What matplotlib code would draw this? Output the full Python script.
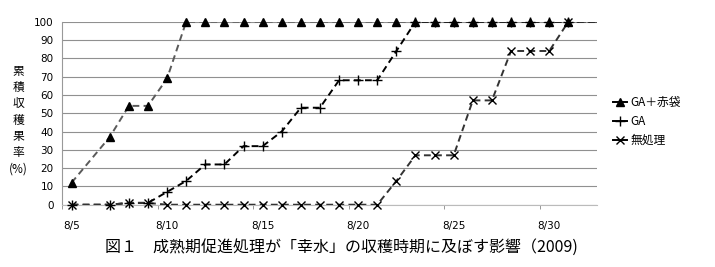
import numpy as np
import matplotlib
matplotlib.use('Agg')
import matplotlib.pyplot as plt

plt.rcParams['font.family'] = ['Noto Sans CJK JP', 'DejaVu Sans']

# 8/5 .. 9/2 (8/6 has no data)
DATES = [f'8/{d}' for d in range(5, 32)] + ['9/1', '9/2']
N = None
GA_AKABUKURO = [12, N, 37, 54, 54, 69] + [100] * 23
GA = [0, N, 0, 1, 1, 7, 13, 22, 22, 32, 32, 40, 53, 53, 68, 68, 68, 84] + [100] * 11
MUSHORI = [0, N, 0, 1, 1] + [0] * 12 + [13, 27, 27, 27, 57, 57, 84, 84, 84, 100, 100, 100]
LAST_MARKER = '8/31'
SERIES = [('GA＋赤袋', GA_AKABUKURO, '#5a5a5a', '^', 6),
          ('GA', GA, 'black', '+', 7.5),
          ('無処理', MUSHORI, '#333333', 'x', 5.5)]

fig = plt.figure(figsize=(7.15, 2.67), dpi=100)
ax = fig.add_axes([0.0867, 0.2333, 0.7483, 0.6854])

idx = np.arange(len(DATES))
last = DATES.index(LAST_MARKER)
for name, vals, lc, mk, ms in SERIES:
    x = np.array([i for i, v in zip(idx, vals) if v is not None])
    y = np.array([v for v in vals if v is not None], dtype=float)
    ax.plot(x, y, linestyle=(0, (3.5, 2.2)), color=lc, lw=1.4, clip_on=True, zorder=3)
    m = x <= last
    ax.plot(x[m], y[m], linestyle='none', marker=mk, color='black', ms=ms,
            mew=1.0, clip_on=False, zorder=4)
    ax.plot([], [], linestyle='-', color='black', lw=1.4, marker=mk, ms=ms,
            mew=1.0, label=name)

ax.set_xlim(-0.5, 27.5)
ax.set_ylim(0, 100)
ax.set_yticks(range(0, 101, 10))
ax.yaxis.grid(True, color='#909090', lw=0.8)
ax.set_axisbelow(True)
ax.set_xticks(idx[0:28:5])
ax.set_xticklabels([DATES[i] for i in idx[0:28:5]])
ax.set_xticks(np.arange(-0.5, 28, 5), minor=True)
ax.tick_params(axis='x', which='major', length=0, pad=12)
ax.tick_params(axis='x', which='minor', length=3, color='#888888', direction='out')
ax.tick_params(axis='y', length=0, pad=6)
for lab in ax.get_xticklabels() + ax.get_yticklabels():
    lab.set_family('DejaVu Sans')
    lab.set_fontsize(7.5)
for s in ['top', 'right']:
    ax.spines[s].set_visible(False)
ax.spines['left'].set_color('#999999')
ax.spines['bottom'].set_color('#bbbbbb')

fig.text(0.026, 0.55, '累\n積\n収\n穫\n果\n率\n(%)', ha='center', va='center',
         fontsize=8.5, linespacing=1.32)

ax.legend(loc='center left', bbox_to_anchor=(1.01, 0.455), frameon=False,
          prop={'size': 8.5}, handlelength=1.2, handletextpad=0.3, labelspacing=0.5)

fig.text(0.147, 0.072, '図１　成熟期促進処理が「幸水」の収穫時期に及ぼす影響（2009)',
         ha='left', va='center', fontsize=11.5)

fig.savefig('out.png', dpi=100)
